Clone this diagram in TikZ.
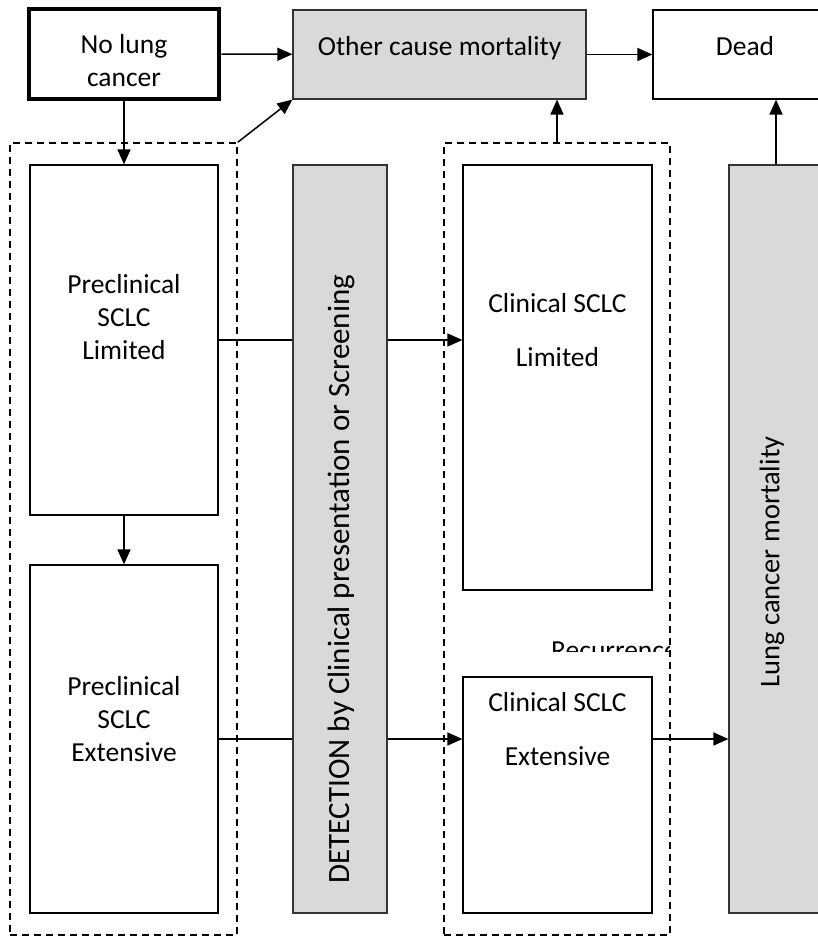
\documentclass[tikz,border=0pt]{standalone}
\usepackage{fontspec}
\setmainfont{Carlito}
\usetikzlibrary{arrows.meta}
\definecolor{boxgray}{HTML}{D9D9D9}

\begin{document}
\begin{tikzpicture}[x=1pt, y=-1pt,
    every node/.style={font=\fontsize{27.5}{33}\selectfont},
    state/.style={rectangle, draw, line width=1.2pt, inner sep=0pt},
    grey/.style={state, fill=boxgray, draw=black!80},
    group/.style={rectangle, draw, dash pattern=on 7pt off 5pt, line width=1.5pt, inner sep=0pt},
    txt/.style={align=center, inner sep=0pt},
    line/.style={line width=1.5pt},
    arr/.style={line, -{Triangle[length=15pt,width=13pt]}}]
    \useasboundingbox (0,0) rectangle (817,941);

        % Groups
        \node (grpl) [group, minimum width=227pt, minimum height=792pt] at (123.5,539) {};
        \node (grpr) [group, minimum width=226pt, minimum height=792pt] at (557,539) {};

        % Nodes
        \node (nolc) [state, line width=4.5pt, minimum width=190pt, minimum height=90pt] at (124,54) {};
        \node (other) [grey, minimum width=293pt, minimum height=89pt, text height=20pt, text depth=17pt] at (439.5,54.5) {Other cause mortality};
        \node (dead) [state, minimum width=184pt, minimum height=89pt, text height=20pt, text depth=17pt] at (745,54.5) {Dead};
        \node (pl) [state, minimum width=188pt, minimum height=350pt] at (124,340) {};
        \node (pe) [state, minimum width=188pt, minimum height=348pt] at (124,739) {};
        \node (det) [grey, minimum width=94pt, minimum height=748pt] at (340,539) {};
        \node (cl) [state, minimum width=189pt, minimum height=425pt] at (557.5,377.5) {};
        \node (ce) [state, minimum width=189pt, minimum height=236pt] at (557.5,795) {};
        \node (lcm) [grey, minimum width=94pt, minimum height=748pt] at (776,539) {};

        % Texts
        \node (nolc-txt) [txt] at (124,61) {No lung\\cancer};
        \node (pl-txt) [txt] at (124,317) {Preclinical\\SCLC\\Limited};
        \node (pe-txt) [txt] at (124,719) {Preclinical\\SCLC\\Extensive};
        \node (cl-txt) [txt] at (557.5,330) {Clinical SCLC\\[21pt]Limited};
        \node (ce-txt) [txt] at (557.5,729) {Clinical SCLC\\[21pt]Extensive};
        \node (det-txt) [txt, rotate=90, font=\fontsize{31}{37}\selectfont] at (341,579) {DETECTION by Clinical presentation or Screening};
        \node (lcm-txt) [txt, rotate=90, font=\fontsize{28.5}{34}\selectfont] at (772,562) {Lung cancer mortality};
        \begin{scope}
            \clip (540,600) rectangle (669,651);
            \node (rec) [anchor=base west, inner sep=0pt] at (551,659) {Recurrence};
        \end{scope}

        % Edges
        \draw[arr] (nolc) -- (other);
        \draw[arr] (other) -- (other -| dead.west);
        \draw[arr] (nolc) -- (pl);
        \draw[arr] (grpl.north east) -- (other.south west);
        \draw[arr] (grpr.north) -- (grpr.north |- other.south);
        \draw[arr] (lcm.north) -- (lcm.north |- dead.south);
        \draw[arr] (pl) -- (pe);
        \draw[line] (pl.east) -- (pl.east -| det.west);
        \draw[arr] (det.east |- pl.east) -- (cl.west |- pl.east);
        \draw[line] (pe.east) -- (pe.east -| det.west);
        \draw[arr] (det.east |- pe.east) -- (ce.west |- pe.east);
        \draw[arr] (ce.east |- pe.east) -- (lcm.west |- pe.east);

    \end{tikzpicture}
\end{document}
